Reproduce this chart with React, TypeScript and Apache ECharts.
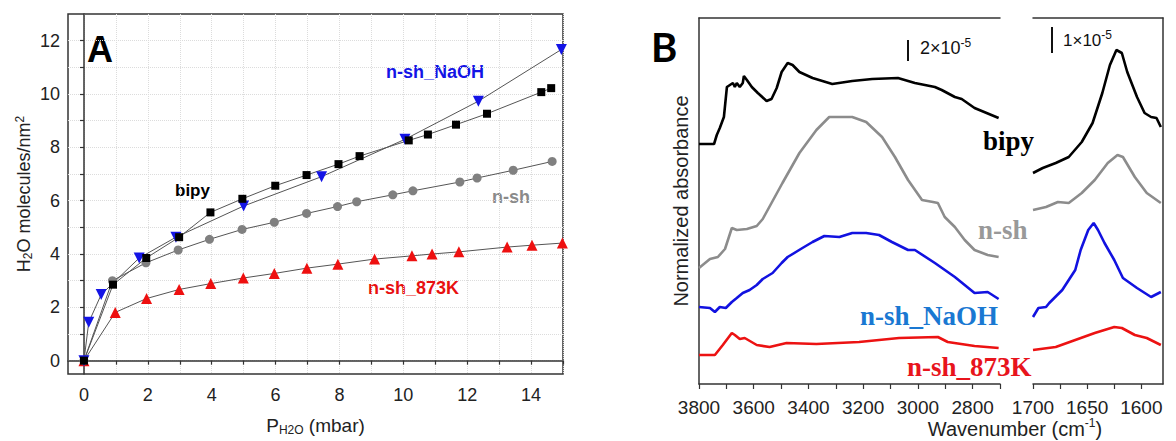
import React, { useEffect, useRef } from "react";
import * as echarts from "echarts";

// ---------- Panel A: water adsorption isotherms [P (mbar), H2O molecules/nm2] ----------
const bipyIso: number[][] = [
  [0, 0], [0.91, 2.85], [1.95, 3.85], [2.98, 4.63], [3.96, 5.56], [4.96, 6.07], [5.99, 6.56],
  [6.97, 6.96], [7.97, 7.37], [8.63, 7.67], [10.17, 8.26], [10.77, 8.48], [11.65, 8.85],
  [12.62, 9.26], [14.32, 10.07], [14.63, 10.22],
];
const naohIso: number[][] = [
  [0, 0], [0.15, 1.44], [0.54, 2.48], [1.73, 3.85], [2.88, 4.63], [5.0, 5.8], [7.44, 6.9],
  [10.05, 8.3], [12.35, 9.73], [14.95, 11.67],
];
const nshIso: number[][] = [
  [0, 0], [0.89, 3.0], [1.94, 3.67], [2.95, 4.15], [3.93, 4.55], [4.95, 4.92], [5.96, 5.19],
  [6.97, 5.52], [7.94, 5.78], [8.54, 5.96], [9.67, 6.22], [10.3, 6.37], [11.77, 6.7],
  [12.31, 6.85], [13.44, 7.14], [14.66, 7.47],
];
const k873Iso: number[][] = [
  [0, 0], [0.98, 1.81], [1.96, 2.33], [2.98, 2.67], [3.97, 2.89], [4.99, 3.1], [5.96, 3.27],
  [6.98, 3.47], [7.95, 3.62], [9.1, 3.81], [10.27, 3.93], [10.9, 4.0], [11.74, 4.08],
  [13.25, 4.26], [14.03, 4.33], [14.98, 4.41],
];
const pTickValues = [0, 1, 2, 3, 4, 5, 6, 7, 8, 9, 10, 11, 12, 13, 14, 15];
const pLabelValues = [0, 2, 4, 6, 8, 10, 12, 14];
const nTickValues = [0, 1, 2, 3, 4, 5, 6, 7, 8, 9, 10, 11, 12];
const nLabelValues = [0, 2, 4, 6, 8, 10, 12];

// ---------- Panel B: IR spectra [wavenumber (cm-1), normalized absorbance (offset, a.u.)] ----------
const bipyOH: number[][] = [
  [3800, 240], [3745, 240], [3735, 249], [3724, 256], [3709, 267], [3698, 297], [3687, 299],
  [3676, 301], [3669, 297], [3662, 301], [3651, 297], [3640, 301], [3636, 308], [3625, 304],
  [3607, 297], [3585, 291], [3553, 283], [3535, 285], [3516, 296], [3498, 312], [3476, 321],
  [3458, 319], [3433, 312], [3385, 306], [3313, 300], [3240, 303], [3167, 305], [3073, 306],
  [3011, 301], [2938, 297], [2913, 294], [2865, 287], [2840, 285], [2793, 276], [2705, 266],
];
const bipyBend: number[][] = [
  [1700, 211], [1691, 216], [1679, 221], [1667, 227], [1655, 242], [1645, 261], [1636, 291],
  [1629, 319], [1623, 334], [1618, 331], [1613, 312], [1604, 287], [1597, 271], [1591, 267],
  [1586, 266], [1582, 257],
];
const nshOH: number[][] = [
  [3800, 116], [3760, 125], [3731, 127], [3705, 135], [3680, 156], [3662, 154], [3625, 155],
  [3589, 158], [3567, 165], [3495, 201], [3433, 231], [3371, 254], [3324, 267], [3240, 267],
  [3189, 262], [3131, 247], [3084, 227], [3036, 204], [2985, 184], [2945, 182], [2927, 181],
  [2902, 167], [2865, 157], [2829, 144], [2793, 134], [2745, 129], [2705, 127],
];
const nshBend: number[][] = [
  [1700, 174], [1688, 177], [1677, 182], [1667, 181], [1655, 191], [1643, 204], [1631, 221],
  [1622, 229], [1617, 227], [1606, 207], [1595, 191], [1582, 181],
];
const naohOH: number[][] = [
  [3800, 77], [3760, 76], [3742, 72], [3724, 77], [3702, 76], [3680, 82], [3662, 86],
  [3640, 91], [3615, 94], [3589, 99], [3567, 105], [3531, 111], [3498, 121], [3476, 127],
  [3422, 136], [3385, 142], [3342, 148], [3287, 147], [3240, 151], [3189, 151], [3142, 149],
  [3095, 142], [3036, 134], [3011, 134], [2938, 121], [2865, 107], [2793, 91], [2745, 92],
  [2705, 85],
];
const naohBend: number[][] = [
  [1700, 67], [1695, 76], [1688, 77], [1685, 81], [1673, 94], [1661, 114], [1656, 134],
  [1649, 154], [1644, 161], [1640, 154], [1634, 141], [1625, 124], [1617, 106], [1604, 96],
  [1591, 87], [1582, 92],
];
const k873OH: number[][] = [
  [3800, 29], [3742, 29], [3713, 39], [3680, 51], [3669, 49], [3651, 45], [3633, 46],
  [3589, 39], [3542, 37], [3480, 41], [3371, 40], [3215, 42], [3069, 46], [2927, 47],
  [2891, 42], [2793, 38], [2705, 36],
];
const k873Bend: number[][] = [
  [1700, 34], [1679, 37], [1661, 44], [1643, 51], [1625, 57], [1618, 56], [1606, 49],
  [1595, 46], [1582, 39],
];
const wnHighTicks = [3800, 3700, 3600, 3500, 3400, 3300, 3200, 3100, 3000, 2900, 2800, 2700];
const wnHighLabels = [3800, 3600, 3400, 3200, 3000, 2800];
const wnLowTicks = [1700, 1675, 1650, 1625, 1600];
const wnLowLabels = [1700, 1650, 1600];

const SANS = '"Liberation Sans", Arial, sans-serif';
const SERIF = '"Liberation Serif", "Times New Roman", serif';
const AX = "#333";
const plain = (v: number) => String(v);

export default function App() {
  const ref = useRef<HTMLDivElement>(null);

  useEffect(() => {
    if (!ref.current) return;
    const chart = echarts.init(ref.current, undefined, { renderer: "svg" });

    const isoSeries = (data: number[][], color: string, symbol: string, size: number, rotate = 0) => ({
      type: "line",
      xAxisIndex: 0,
      yAxisIndex: 0,
      data,
      symbol,
      symbolSize: size,
      symbolRotate: rotate,
      showSymbol: true,
      lineStyle: { color: "#555", width: 1 },
      itemStyle: { color, borderWidth: 0 },
      emphasis: { disabled: true },
    });
    const specSeries = (data: number[][], color: string, xi: number, yi: number) => ({
      type: "line",
      xAxisIndex: xi,
      yAxisIndex: yi,
      data,
      symbol: "none",
      lineStyle: { color, width: 2.6 },
      emphasis: { disabled: true },
    });

    const lineOnly = { show: true, lineStyle: { color: AX, width: 1.5 } };

    chart.setOption({
      animation: false,
      backgroundColor: "#fff",
      textStyle: { fontFamily: SANS },
      grid: [
        { left: 68, top: 14, width: 495, height: 365, show: true, borderColor: AX, borderWidth: 1.5, backgroundColor: "transparent" },
        { left: 699, top: 18, width: 301, height: 366 },
        { left: 1033, top: 18, width: 130, height: 366 },
      ],
      xAxis: [
        {
          gridIndex: 0, type: "value", min: -0.5, max: 15,
          axisLine: lineOnly,
          axisTick: { show: true, customValues: pTickValues, length: 4, lineStyle: { color: AX, width: 1.2 } },
          axisLabel: { customValues: pLabelValues, fontSize: 18, color: "#222", margin: 12, fontFamily: SANS, formatter: plain },
          splitLine: { show: true, lineStyle: { color: "#dcdcdc", type: "dotted", width: 1 } },
          name: "{t|P}{s|H2O}{t| (mbar)}",
          nameLocation: "middle",
          nameGap: 40,
          nameTextStyle: {
            rich: {
              t: { fontSize: 19, fontFamily: SANS, color: "#222", lineHeight: 22 },
              s: { fontSize: 12, fontFamily: SANS, color: "#222", lineHeight: 12, verticalAlign: "bottom" },
            },
          },
        },
        {
          gridIndex: 1, type: "value", min: 2700, max: 3800, inverse: true,
          axisLine: lineOnly,
          axisTick: { show: true, customValues: wnHighTicks, length: 5, lineStyle: { color: AX, width: 1.2 } },
          axisLabel: { customValues: wnHighLabels, fontSize: 19, color: "#222", margin: 14, fontFamily: SANS, formatter: plain },
          splitLine: { show: false },
        },
        {
          gridIndex: 1, type: "value", min: 2700, max: 3800, inverse: true, position: "top",
          axisLine: lineOnly, axisTick: { show: false }, axisLabel: { show: false }, splitLine: { show: false },
        },
        {
          gridIndex: 2, type: "value", min: 1580, max: 1700, inverse: true,
          axisLine: lineOnly,
          axisTick: { show: true, customValues: wnLowTicks, length: 5, lineStyle: { color: AX, width: 1.2 } },
          axisLabel: { customValues: wnLowLabels, fontSize: 19, color: "#222", margin: 14, fontFamily: SANS, formatter: plain },
          splitLine: { show: false },
        },
        {
          gridIndex: 2, type: "value", min: 1580, max: 1700, inverse: true, position: "top",
          axisLine: lineOnly, axisTick: { show: false }, axisLabel: { show: false }, splitLine: { show: false },
        },
      ],
      yAxis: [
        {
          gridIndex: 0, type: "value", min: -0.5, max: 13,
          axisLine: lineOnly,
          axisTick: { show: true, customValues: nTickValues, length: 4, lineStyle: { color: AX, width: 1.2 } },
          axisLabel: { customValues: nLabelValues, fontSize: 18, color: "#222", margin: 8, fontFamily: SANS, formatter: plain },
          splitLine: { show: true, lineStyle: { color: "#dcdcdc", type: "dotted", width: 1 } },
          name: "{t|H}{s|2}{t|O molecules/nm}{p|2}",
          nameLocation: "middle",
          nameGap: 34,
          nameTextStyle: {
            rich: {
              t: { fontSize: 18, fontFamily: SANS, color: "#222", lineHeight: 20 },
              s: { fontSize: 12, fontFamily: SANS, color: "#222", lineHeight: 12, verticalAlign: "bottom" },
              p: { fontSize: 12, fontFamily: SANS, color: "#222", lineHeight: 12, verticalAlign: "top" },
            },
          },
        },
        {
          gridIndex: 1, type: "value", min: 0, max: 366,
          axisLine: lineOnly, axisTick: { show: false }, axisLabel: { show: false }, splitLine: { show: false },
          name: "Normalized absorbance",
          nameLocation: "middle",
          nameGap: 8,
          nameTextStyle: { fontSize: 20, fontFamily: SANS, color: "#222" },
        },
        {
          gridIndex: 2, type: "value", min: 0, max: 366, position: "right",
          axisLine: lineOnly, axisTick: { show: false }, axisLabel: { show: false }, splitLine: { show: false },
        },
      ],
      series: [
        isoSeries(k873Iso, "#ee1010", "triangle", 11),
        isoSeries(nshIso, "#808080", "circle", 9),
        isoSeries(naohIso, "#1414e6", "triangle", 11, 180),
        isoSeries(bipyIso, "#000000", "rect", 8),
        specSeries(bipyOH, "#000000", 1, 1),
        specSeries(nshOH, "#8c8c8c", 1, 1),
        specSeries(naohOH, "#1212e0", 1, 1),
        specSeries(k873OH, "#ec1212", 1, 1),
        specSeries(bipyBend, "#000000", 3, 2),
        specSeries(nshBend, "#8c8c8c", 3, 2),
        specSeries(naohBend, "#1212e0", 3, 2),
        specSeries(k873Bend, "#ec1212", 3, 2),
      ],
      graphic: [
        { type: "text", x: 87, y: 49, style: { text: "A", font: `bold 36px ${SANS}`, fill: "#000", textAlign: "left", textVerticalAlign: "middle" } },
        { type: "text", x: 175, y: 190, style: { text: "bipy", font: `bold 17px ${SANS}`, fill: "#000", textAlign: "left", textVerticalAlign: "middle" } },
        { type: "text", x: 386, y: 72, style: { text: "n-sh_NaOH", font: `bold 18px ${SANS}`, fill: "#1414e6", textAlign: "left", textVerticalAlign: "middle" } },
        { type: "text", x: 492, y: 197, style: { text: "n-sh", font: `bold 18px ${SANS}`, fill: "#8a8a8a", textAlign: "left", textVerticalAlign: "middle" } },
        { type: "text", x: 368, y: 288, style: { text: "n-sh_873K", font: `bold 18px ${SANS}`, fill: "#e81010", textAlign: "left", textVerticalAlign: "middle" } },

        { type: "text", x: 651, y: 47, style: { text: "B", font: `bold 40px Lato, ${SANS}`, fill: "#000", textAlign: "left", textVerticalAlign: "middle" } },
        { type: "text", x: 983, y: 141, style: { text: "bipy", font: `bold 27px ${SERIF}`, fill: "#000", textAlign: "left", textVerticalAlign: "middle" } },
        { type: "text", x: 978, y: 230, style: { text: "n-sh", font: `bold 27px ${SERIF}`, fill: "#999", textAlign: "left", textVerticalAlign: "middle" } },
        { type: "text", x: 860, y: 316, style: { text: "n-sh_NaOH", font: `bold 27px ${SERIF}`, fill: "#1a78d2", textAlign: "left", textVerticalAlign: "middle" } },
        { type: "text", x: 907, y: 367, style: { text: "n-sh_873K", font: `bold 27px ${SERIF}`, fill: "#e8141c", textAlign: "left", textVerticalAlign: "middle" } },

        { type: "line", shape: { x1: 908, y1: 40, x2: 908, y2: 61 }, style: { stroke: "#111", lineWidth: 2 } },
        {
          type: "text", x: 920, y: 48,
          style: {
            text: "{t|2×10}{p|-5}", textAlign: "left", textVerticalAlign: "middle",
            rich: {
              t: { fontSize: 18, fontFamily: SANS, fill: "#111", lineHeight: 22 },
              p: { fontSize: 12, fontFamily: SANS, fill: "#111", lineHeight: 12, verticalAlign: "top" },
            },
          },
        },
        { type: "line", shape: { x1: 1052, y1: 27, x2: 1052, y2: 53 }, style: { stroke: "#111", lineWidth: 2 } },
        {
          type: "text", x: 1063, y: 40,
          style: {
            text: "{t|1×10}{p|-5}", textAlign: "left", textVerticalAlign: "middle",
            rich: {
              t: { fontSize: 17, fontFamily: SANS, fill: "#111", lineHeight: 22 },
              p: { fontSize: 12, fontFamily: SANS, fill: "#111", lineHeight: 12, verticalAlign: "top" },
            },
          },
        },
        {
          type: "text", x: 1015, y: 429,
          style: {
            text: "{t|Wavenumber (cm}{p|-1}{t|)}", textAlign: "center", textVerticalAlign: "middle",
            rich: {
              t: { fontSize: 20, fontFamily: SANS, fill: "#222", lineHeight: 24 },
              p: { fontSize: 12, fontFamily: SANS, fill: "#222", lineHeight: 12, verticalAlign: "top" },
            },
          },
        },
      ],
    });

    return () => chart.dispose();
  }, []);

  return (
    <div
      ref={ref}
      style={{ position: "fixed", left: 0, top: 0, width: 1176, height: 441, background: "#fff" }}
    />
  );
}
